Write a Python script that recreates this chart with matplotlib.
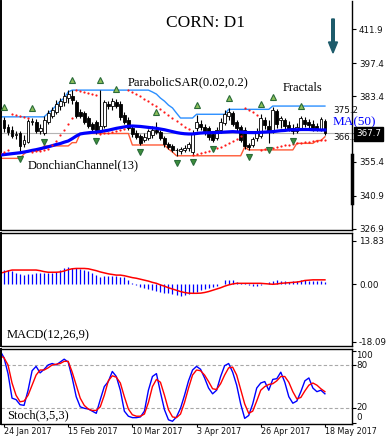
import numpy as np
import matplotlib
matplotlib.use('Agg')
import matplotlib.pyplot as plt
from matplotlib.transforms import offset_copy, IdentityTransform
from matplotlib.patches import FancyArrow
from matplotlib.lines import Line2D

# ---------------- data ----------------
dates_lbl = ['24 Jan 2017', '15 Feb 2017', '10 Mar 2017', '3 Apr 2017', '26 Apr 2017', '18 May 2017']
date_idx = [1, 17, 33, 49, 65, 81]

opens = [369.8,373.2,370.3,369.0,366.8,367.7,363.0,363.9,372.4,372.4,
         368.6,367.7,372.4,374.9,376.7,379.2,380.9,382.6,383.5,380.9,
         376.7,376.2,374.1,371.5,372.4,369.0,370.7,380.1,379.2,380.9,
         380.1,375.4,373.2,369.8,367.7,366.4,364.7,365.6,366.8,369.0,
         368.1,365.6,363.0,362.2,360.5,360.0,360.5,361.3,359.6,369.8,
         371.5,370.3,369.8,367.3,365.6,369.0,372.0,374.9,376.2,372.4,
         370.3,369.0,362.6,362.6,365.6,366.4,373.2,370.7,369.0,377.1,
         373.2,373.2,371.1,369.8,368.6,369.8,373.2,372.4,371.5,370.7,
         369.0,372.8]
highs = [374.9,374.5,371.5,370.7,368.6,368.6,366.8,373.7,374.1,373.7,
         371.5,374.9,377.5,378.8,381.8,382.6,385.2,386.0,386.2,381.8,
         377.9,377.1,374.9,372.4,373.2,386.0,381.8,381.3,382.6,382.2,
         381.3,376.7,374.5,370.7,369.0,367.3,367.7,369.4,370.7,372.4,
         369.0,366.4,363.9,363.0,361.3,361.7,362.6,363.9,369.0,375.3,
         373.2,371.5,370.7,368.6,370.3,374.1,377.5,378.4,377.1,373.2,
         371.1,370.3,363.4,366.0,369.8,375.8,374.5,373.2,378.8,377.9,
         374.9,374.1,372.8,371.5,372.0,374.9,374.5,373.7,373.2,372.0,
         374.5,373.7]
lows = [369.0,368.1,366.8,365.6,365.1,359.6,361.7,363.4,371.1,367.7,
        367.3,366.8,371.5,374.1,375.8,377.5,379.2,380.5,380.1,374.1,
        374.1,371.5,369.8,368.6,367.3,367.7,369.8,377.9,377.5,378.4,
        373.2,371.5,369.0,366.0,365.1,362.6,363.9,364.7,365.6,367.3,
        364.7,361.7,360.9,359.6,358.0,358.7,359.6,360.0,358.3,368.6,
        369.0,366.8,364.7,363.9,364.7,367.7,371.1,373.2,370.7,368.6,
        363.9,360.9,360.5,361.7,364.3,365.6,369.4,363.4,367.7,369.8,
        369.8,369.4,368.6,367.3,367.7,369.0,370.3,369.8,368.6,368.6,
        368.6,366.8]
closes = [374.1,369.8,368.1,366.4,367.3,362.2,364.7,372.8,372.8,368.6,
          369.8,373.2,376.2,377.5,380.1,381.3,383.5,384.3,381.8,374.9,
          374.9,372.4,370.7,369.4,369.0,370.7,380.9,379.2,381.3,379.2,
          374.5,372.4,369.8,367.3,366.0,363.4,366.0,368.6,369.0,368.1,
          365.6,363.0,361.7,360.5,360.3,360.9,361.3,363.0,367.3,372.4,
          370.3,368.6,366.0,364.7,369.0,372.4,375.8,376.7,371.5,369.8,
          364.7,362.2,361.7,365.1,368.6,374.1,371.1,368.1,377.5,371.5,
          374.1,370.7,369.4,368.6,370.3,374.1,371.5,371.1,369.8,369.4,
          373.7,367.7]

ma50 = [358.3,358.5,358.7,358.9,359.1,359.3,359.6,359.9,360.3,360.6,
        361.0,361.4,361.8,362.3,362.8,363.2,363.8,364.3,365.3,366.4,
        367.3,367.6,367.8,368.0,368.1,368.3,368.6,368.9,369.3,369.7,
        370.0,370.3,370.6,370.7,370.6,370.5,370.3,370.1,369.9,369.7,
        369.4,369.1,368.7,368.3,367.9,367.6,367.4,367.3,367.3,367.5,
        367.7,367.8,367.8,367.9,367.9,368.0,368.1,368.2,368.3,368.2,
        368.1,368.0,367.9,367.9,367.9,368.0,368.1,368.2,368.3,368.5,
        368.7,368.8,369.0,369.1,369.1,369.2,369.2,369.2,369.1,369.1,
        369.0,369.0]

don_up = ([374.6]*12 + [376.2,377.5,379.6,381.3,382.6,385.2] + [386.0]*20 +
          [385.2,384.3,382.6,381.3,379.6,378.4,376.2] + [374.1]*4 + [375.7]*8 +
          [377.8]*11 + [379.2]*14)
don_lo = ([356.9]*6 + [358.8] + [360.2]*4 + [362.2]*7 + [363.6]*2 + [367.5]*13 +
          [362.6]*9 + [360.9, 359.6] + [358.0]*17 + [361.7] + [360.5]*12 +
          [363.3]*5 + [364.5]*2 + [366.1])

sar = [359.0,359.8,360.6,376.0,375.4,374.9,374.4,374.0,359.6,359.9,
       360.2,360.6,361.0,362.5,364.5,366.8,369.0,371.5,374.0,386.0,
       385.6,385.2,384.8,384.4,384.0,367.3,367.5,367.8,368.1,368.5,
       368.9,369.3,386.0,385.3,384.5,383.5,382.4,381.3,380.2,379.1,
       378.0,376.8,375.5,374.2,372.8,371.5,370.3,369.3,358.3,358.6,
       359.0,359.5,360.0,360.6,361.2,361.8,362.5,363.3,364.2,365.2,
       366.3,378.4,377.5,376.6,375.6,360.5,360.7,361.0,361.4,361.8,
       362.2,362.5,362.8,363.1,363.4,363.6,363.8,364.0,364.2,364.4,
       364.6,364.8]

fractal_up = [1, 8, 18, 25, 29, 39, 49, 57, 65, 68, 75]
fractal_dn = [5, 11, 24, 35, 44, 48, 53, 62, 67, 73]

macd_hist = [4.3,4.6,4.5,4.2,3.5,3.3,3.0,3.2,3.4,3.5,
             3.7,3.6,3.5,3.7,4.0,4.5,5.0,5.5,5.2,5.0,
             4.7,4.4,4.2,3.5,2.8,2.4,2.6,2.7,2.6,2.5,
             2.4,2.2,1.3,0.4,-0.3,-0.8,-1.2,-1.5,-1.8,-2.0,
             -2.3,-2.6,-2.9,-3.2,-3.4,-3.6,-3.5,-3.0,-2.8,-2.3,
             -1.9,-1.5,-1.2,-0.8,-0.4,0.2,1.2,1.5,1.3,0.8,
             0.5,0.3,-0.3,-0.6,-0.4,-0.2,0.2,0.6,1.0,1.3,
             1.1,0.9,0.8,0.9,1.1,1.3,1.2,1.0,0.9,0.9,
             1.0,0.8]
macd_signal = [3.5,3.8,4.2,4.5,4.5,4.5,4.5,4.5,4.5,4.5,
               4.3,4.0,3.8,3.8,3.8,3.9,4.2,4.6,4.9,5.0,
               5.0,5.0,4.9,4.6,4.3,3.9,3.6,3.3,3.1,2.9,
               2.9,2.7,2.4,2.1,1.9,1.6,1.3,1.0,0.6,0.3,
               -0.2,-0.6,-1.1,-1.5,-1.9,-2.3,-2.6,-2.8,-2.85,-2.85,
               -2.8,-2.6,-2.3,-1.9,-1.5,-1.1,-0.6,-0.2,0.1,0.3,
               0.3,0.3,0.3,0.3,0.3,0.3,0.2,0.1,0.0,0.1,
               0.3,0.4,0.5,0.6,0.7,0.9,1.2,1.3,1.4,1.4,
               1.4,1.4]

stoch_k = [100,90,68,34,32,25,24,45,72,78,
           69,74,80,82,80,84,88,84,62,36,
           22,20,19,16,13,32,50,57,71,64,
           45,16,9,7,7,8,16,45,64,68,
           42,18,4,2,8,20,38,58,73,78,
           74,62,48,40,45,64,79,82,70,52,
           26,6,10,26,48,55,57,45,60,61,
           70,56,36,27,30,43,58,62,48,43,
           45,40]
stoch_d = [93,90,80,55,38,29,30,38,52,66,
           73,73,76,80,81,82,85,85,70,52,
           34,24,19,17,17,22,38,58,65,63,
           55,36,19,11,9,9,12,28,50,60,
           56,38,18,8,7,12,28,48,66,73,
           72,66,57,47,46,54,66,76,77,66,
           46,26,13,16,30,45,50,53,54,58,
           64,64,56,43,33,35,44,52,55,52,
           47,43]

price_ticks = [411.9, 397.4, 383.4, 355.4, 340.9, 326.9]
macd_ticks = [13.83, 0.00, -18.09]
stoch_ticks = [100, 80, 20, 0]

# ---------------- figure ----------------
W, H = 386, 437
fig = plt.figure(figsize=(W / 100, H / 100), dpi=100)
fig.patch.set_facecolor('white')

def rect(top, bottom, left=1, right=352):
    return [left / W, 1 - bottom / H, (right - left) / W, (bottom - top) / H]

ax = fig.add_axes(rect(1, 230))
axm = fig.add_axes(rect(233, 346), sharex=ax)
axs = fig.add_axes(rect(349, 424), sharex=ax)

x = np.arange(len(closes))
o = np.array(opens); h = np.array(highs); l = np.array(lows); c = np.array(closes)

# candles
ax.vlines(x, l, h, color='black', lw=0.8, zorder=3)
up = c >= o
body_h = np.maximum(np.abs(c - o), 0.15)
ax.bar(x[up], body_h[up], bottom=np.minimum(o, c)[up], width=0.7,
       facecolor='white', edgecolor='black', lw=0.6, zorder=4)
ax.bar(x[~up], body_h[~up], bottom=np.minimum(o, c)[~up], width=0.7,
       facecolor='black', edgecolor='black', lw=0.6, zorder=4)

# indicators
ax.axhline(closes[-1], color='#b4b4b4', lw=0.8, zorder=1)
ax.plot(x, don_up, color='#2b8fff', lw=1.0, zorder=2)
ax.plot(x, don_lo, color='#ff5a36', lw=1.0, zorder=2)
ax.plot(x, ma50, color='#0000ff', lw=2.3, zorder=5)
ax.plot(x, sar, ls='none', marker='o', ms=1.6, color='#ff1a1a', mew=0, zorder=6)

tr_up = offset_copy(ax.transData, fig=fig, x=0, y=7.0, units='points')
tr_dn = offset_copy(ax.transData, fig=fig, x=0, y=-5.0, units='points')
ax.plot(x[fractal_up], h[fractal_up], ls='none', marker='^', ms=5.0,
        mfc='#8cbf5a', mec='#2a6b3a', mew=0.8, transform=tr_up, zorder=7)
ax.plot(x[fractal_dn], l[fractal_dn], ls='none', marker='v', ms=5.0,
        mfc='#3d8f3a', mec='#2a6b3a', mew=0.8, transform=tr_dn, zorder=7)

ax.set_xlim(0.25, 87.75)
ax.set_ylim(326.35, 424.0)

# MACD
axm.vlines(x, 0, macd_hist, color='#0000ff', lw=0.9)
axm.plot(x, macd_signal, color='#ff0000', lw=1.1)
axm.set_ylim(-19.5, 16.2)

# Stochastic
axs.axhline(80, color='#a8a8a8', lw=0.8, ls=(0, (3, 2)))
axs.axhline(20, color='#a8a8a8', lw=0.8, ls=(0, (3, 2)))
axs.plot(x, stoch_k, color='#0000ff', lw=1.0)
axs.plot(x, stoch_d, color='#ff0000', lw=1.0)
axs.set_ylim(-1.8, 102.1)

tick_font = dict(labelsize=6.3, labelcolor='#111111')
for a in (ax, axm, axs):
    a.set_facecolor('white')
    a.yaxis.tick_right()
    a.tick_params(axis='y', direction='out', length=3, width=0.8, pad=2, **tick_font)
    for s in a.spines.values():
        s.set_color('black'); s.set_linewidth(1.0)
    a.spines['left'].set_linewidth(1.4)
ax.spines['top'].set_visible(False)

ax.set_yticks(price_ticks)
ax.set_yticklabels([f'{v:.1f}' for v in price_ticks])
axm.set_yticks(macd_ticks)
axm.set_yticklabels([f'{v:.2f}' for v in macd_ticks])
axs.set_yticks(stoch_ticks)
axs.set_yticklabels([''] * len(stoch_ticks))

for a in (ax, axm):
    a.tick_params(axis='x', bottom=False, labelbottom=False)
axs.set_xticks(date_idx)
axs.set_xticklabels(dates_lbl)
axs.tick_params(axis='x', direction='out', length=2, width=0.8, pad=0.5,
                labelsize=5.8, labelcolor='#111111')
for t in axs.get_xticklabels():
    t.set_ha('left')

# ---------------- texts ----------------
serif = 'Liberation Serif'
def ftext(px, py, s, **kw):
    return fig.text(px / W, 1 - py / H, s, **kw)

# stochastic scale labels (MT4 keeps the extreme ones inside the panel)
for val, py in zip(stoch_ticks, [355, 365, 407, 417]):
    ftext(356, py, str(val), size=6.3, ha='left', va='center', color='#111111')

ftext(205, 23, 'CORN: D1', family=serif, size=12.5, ha='center', va='center')
ftext(128, 82, 'ParabolicSAR(0.02,0.2)', family=serif, size=9, ha='left', va='center')
ftext(283, 88, 'Fractals', family=serif, size=9, ha='left', va='center')
ftext(28, 165, 'DonchianChannel(13)', family=serif, size=9, ha='left', va='center')
ftext(7, 335, 'MACD(12,26,9)', family=serif, size=9, ha='left', va='center')
ftext(7, 415, 'Stoch(3,5,3)', family=serif, size=9, ha='left', va='center')
ftext(333, 110, '375.2', size=6.3, ha='left', va='center', color='#111111')
ftext(333, 137, '366.1', size=6.3, ha='left', va='center', color='#111111')
ftext(333, 122, 'MA(50)', family=serif, size=9.5, ha='left', va='center', color='#0000ff')
ftext(356, 134, f'{closes[-1]:.1f}', size=6.3, ha='left', va='center', color='white',
      bbox=dict(boxstyle='square,pad=0.25', fc='black', ec='black'))

# trend arrow
fig.add_artist(FancyArrow(333, H - 19, 0, -34, width=2.6, head_width=9, head_length=11,
                          length_includes_head=True, color='#1d5b6b',
                          transform=IdentityTransform()))
# thick marker on price scale
fig.add_artist(Line2D([352 / W, 352 / W], [1 - 155 / H, 1 - 203 / H], lw=2.5,
                      color='black', transform=fig.transFigure))

fig.savefig('out.png', dpi=100)
